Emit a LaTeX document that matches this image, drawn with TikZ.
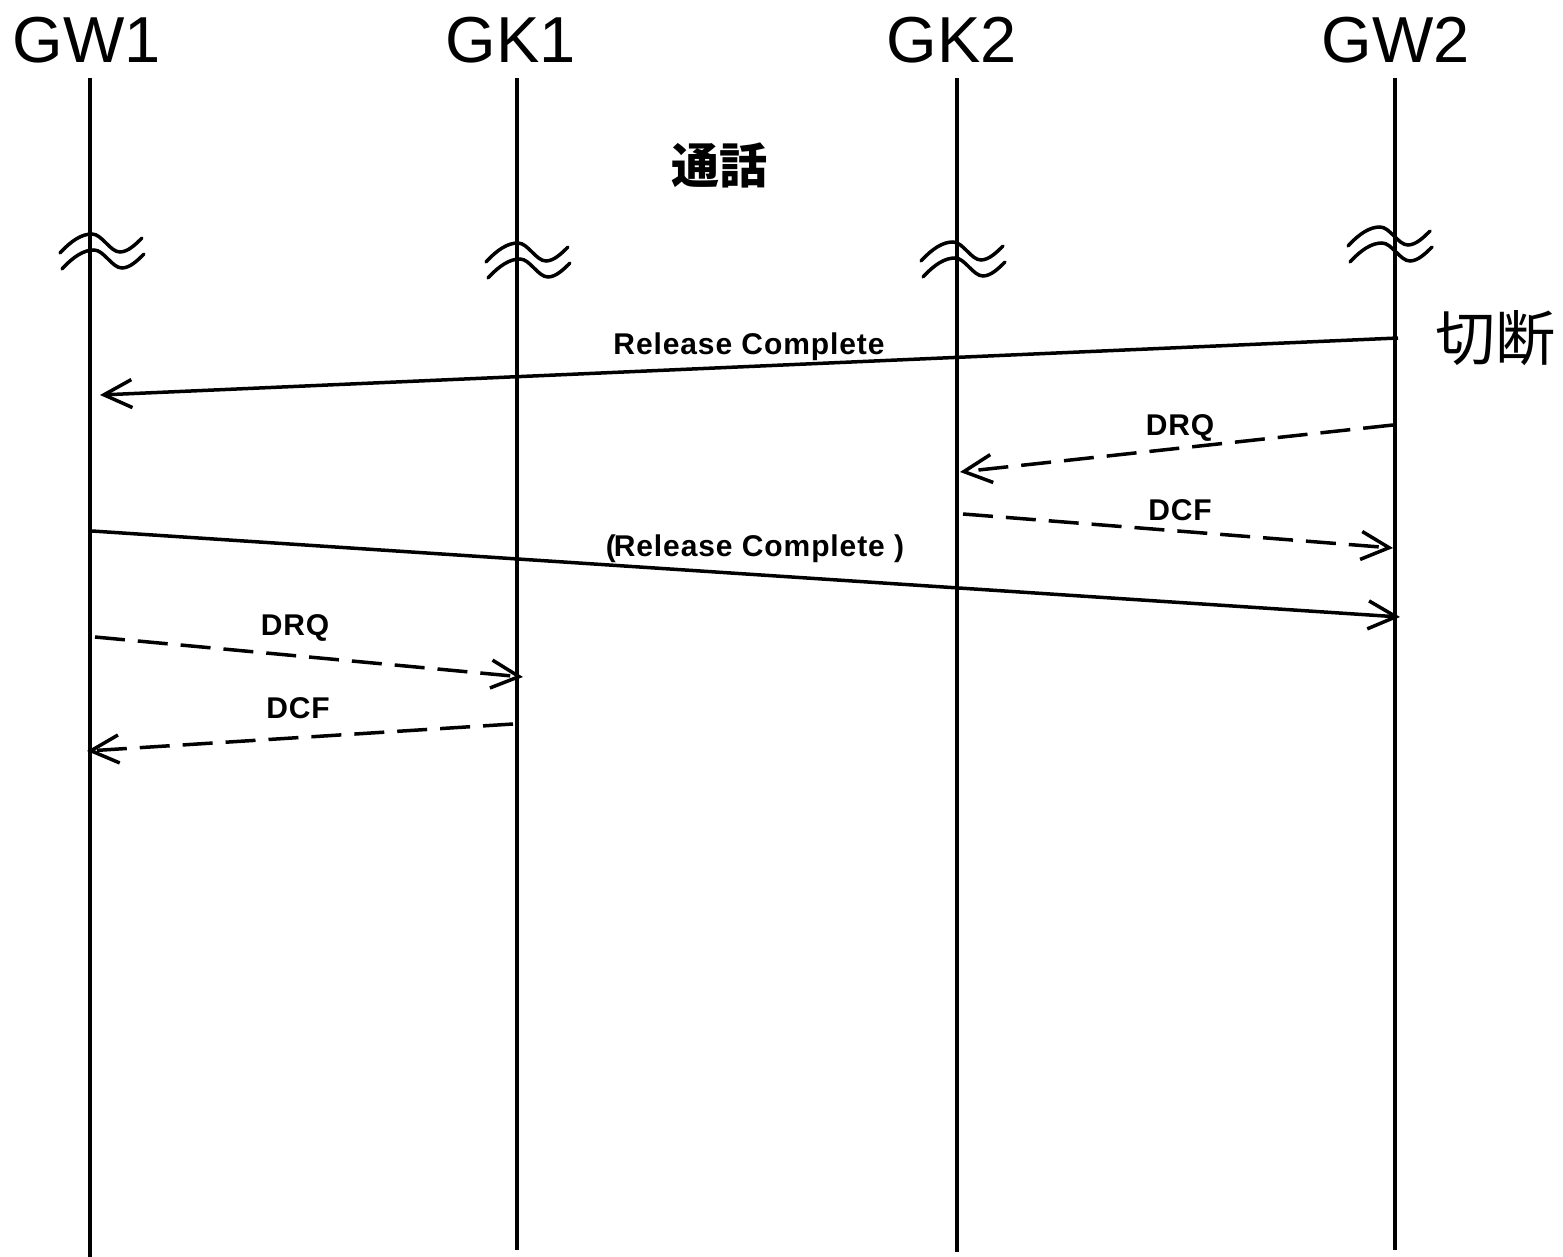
\documentclass[tikz,border=0pt]{standalone}
\usepackage{fontspec}
\setmainfont{Liberation Sans}
\newfontfamily\cjk{Noto Sans CJK JP}
\newfontfamily\lblfont[LetterSpace=3]{Liberation Sans}
\usetikzlibrary{arrows.meta}
\tikzset{
  life/.style={line width=3.5pt},
  msg/.style={line width=3.5pt,-{Straight Barb[length=28pt,width=28pt]}},
  dmsg/.style={msg,dash pattern=on 30pt off 13pt},
  head/.style={font=\fontsize{65}{70}\selectfont,inner sep=0pt},
  lbl/.style={font=\lblfont\bfseries\fontsize{30}{32}\selectfont,inner sep=0pt},
  wave/.pic={
    \draw[line width=3.5pt,line cap=round] (-30,19) .. controls (-18,6) and (-8,0) .. (2,0) .. controls (12,0) and (20,18) .. (30,18) .. controls (38,18) and (46,10) .. (52,4);
    \draw[line width=3.5pt,line cap=round] (-28,35) .. controls (-16,22) and (-6,16) .. (4,16) .. controls (14,16) and (22,34) .. (32,34) .. controls (40,34) and (48,26) .. (54,20);
  }
}
\begin{document}
\begin{tikzpicture}[x=1pt,y=-1pt]
\useasboundingbox (0,0) rectangle (1563,1257);
% headers
\node[head] (gw1) at (87,40) {GW1};
\node[head] (gk1) at (511,40) {GK1};
\node[head] (gk2) at (952,40) {GK2};
\node[head] (gw2) at (1396,40) {GW2};
% lifelines
\coordinate (gw1t) at (90,78);  \coordinate (gw1b) at (90,1257);
\coordinate (gk1t) at (517,78); \coordinate (gk1b) at (517,1250);
\coordinate (gk2t) at (957,78); \coordinate (gk2b) at (957,1252);
\coordinate (gw2t) at (1395,78); \coordinate (gw2b) at (1395,1250);
\draw[life] (gw1t) -- (gw1b);
\draw[life] (gk1t) -- (gk1b);
\draw[life] (gk2t) -- (gk2b);
\draw[life] (gw2t) -- (gw2b);
% talk
\node[font=\cjk\bfseries\fontsize{48}{50}\selectfont,inner sep=0pt] (talk) at (719,165) {通話};
% wave marks
\pic at (90,234) {wave};
\pic at (516,243) {wave};
\pic at (951,242) {wave};
\pic at (1378,227) {wave};
% disconnect
\node[font=\cjk\fontsize{60}{62}\selectfont,inner sep=0pt] (cut) at (1495,338) {切断};
% messages
\coordinate (m1s) at (1398,338); \coordinate (m1e) at (100,395);
\draw[msg] (m1s) -- (m1e);
\node[lbl] (l1) at (749,347) {Release Complete};
\coordinate (m2s) at (1393,425); \coordinate (m2e) at (960,472);
\draw[dmsg] (m2s) -- (m2e);
\node[lbl] (l2) at (1180,428) {DRQ};
\coordinate (m3s) at (963,514); \coordinate (m3e) at (1393,548);
\draw[dmsg] (m3s) -- (m3e);
\node[lbl] (l3) at (1180,510) {DCF};
\coordinate (m4s) at (92,531); \coordinate (m4e) at (1400,617);
\draw[msg] (m4s) -- (m4e);
\node[lbl] (l4) at (755,549) {(\kern-2pt Release Complete )};
\coordinate (m5s) at (95,637); \coordinate (m5e) at (523,677);
\draw[dmsg] (m5s) -- (m5e);
\node[lbl] (l5) at (295,628) {DRQ};
\coordinate (m6s) at (513,724); \coordinate (m6e) at (87,751);
\draw[dmsg] (m6s) -- (m6e);
\node[lbl] (l6) at (298,708) {DCF};
\end{tikzpicture}
\end{document}
